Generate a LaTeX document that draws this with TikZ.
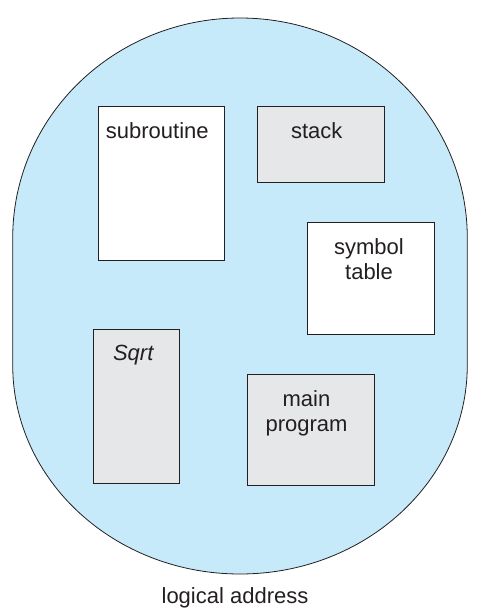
\documentclass[tikz,border=0pt]{standalone}
\usepackage{fontspec}
\setmainfont{Liberation Sans}
\usepackage{tikz}
\usetikzlibrary{positioning}
\definecolor{spaceblue}{RGB}{199,234,250}
\definecolor{boxgray}{RGB}{230,231,232}
\definecolor{inkline}{RGB}{35,31,32}

\begin{document}
\begin{tikzpicture}[x=1pt, y=-1pt,
    whitebox/.style = {draw=inkline, line width=0.8pt, fill=white, inner sep=0pt},
    graybox/.style = {draw=inkline, line width=0.8pt, fill=boxgray, inner sep=0pt},
    lbl/.style = {inner sep=0pt, align=center, text=inkline,
      font=\fontsize{22}{25}\selectfont}]
  \useasboundingbox (0,0) rectangle (480,615);
  % the address space
  \draw[draw=inkline, line width=0.8pt, fill=spaceblue]
    (12.7,238) arc[start angle=180, end angle=360, x radius=227.3, y radius=220]
    -- (467.3,365) arc[start angle=0, end angle=180, x radius=227.3, y radius=209]
    -- cycle;
  % segments
  \node[whitebox, minimum width=126.7pt, minimum height=154pt] (sub) at (161.3,183.7) {};
  \node[graybox, minimum width=126.7pt, minimum height=75.7pt] (stk) at (320.7,144.5) {};
  \node[whitebox, minimum width=126.7pt, minimum height=111.3pt] (sym) at (371,278.3) {};
  \node[graybox, minimum width=86.3pt, minimum height=154pt] (sqrt) at (136.2,406) {};
  \node[graybox, minimum width=127pt, minimum height=111.3pt] (main) at (310.5,430) {};
  % labels
  \node[lbl, below=16.3pt of sub.north, xshift=-4pt] (subtxt) {subroutine};
  \node[lbl, below=16.3pt of stk.north, xshift=-4pt] (stktxt) {stack};
  \node[lbl, below=16.3pt of sym.north, xshift=-2pt] (symtxt) {symbol\\table};
  \node[lbl, below=16.5pt of sqrt.north, xshift=-3pt] (sqrttxt) {\itshape Sqrt};
  \node[lbl, below=16.3pt of main.north, xshift=-4pt] (maintxt) {main\\program};
  \node[lbl, anchor=base] (caption) at (235,603) {logical address};
\end{tikzpicture}
\end{document}
